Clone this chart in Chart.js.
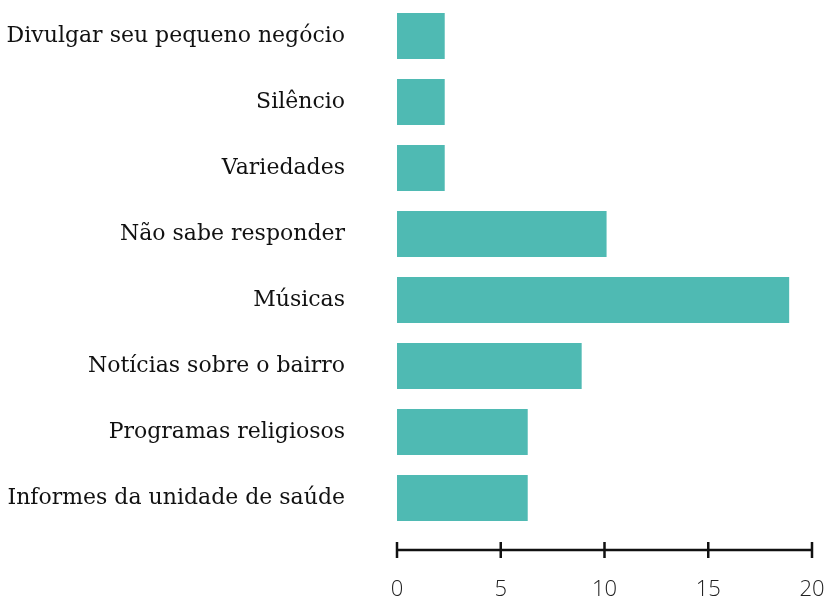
<!DOCTYPE html>
<html>
<head>
<meta charset="utf-8">
<script src="https://cdn.jsdelivr.net/npm/chart.js@4"></script>
<style>
  html, body { margin: 0; padding: 0; background: #fff; }
  #wrap { width: 827px; height: 600px; }
</style>
</head>
<body>
<div id="wrap"><canvas id="topicsChart"></canvas></div>
<script>
// categories (top to bottom) and their values
const categories = [
  "Divulgar seu pequeno negócio",
  "Silêncio",
  "Variedades",
  "Não sabe responder",
  "Músicas",
  "Notícias sobre o bairro",
  "Programas religiosos",
  "Informes da unidade de saúde"
];
const values = [2.3, 2.3, 2.3, 10.1, 18.9, 8.9, 6.3, 6.3];
const xTicks = [0, 5, 10, 15, 20];

// axis line with ticks crossing it, drawn from the x scale
const axisLine = {
  id: "axisLine",
  afterDraw(chart) {
    const ctx = chart.ctx;
    const x = chart.scales.x;
    const y = x.top + 19;
    ctx.save();
    ctx.strokeStyle = "#111";
    ctx.lineWidth = 2.5;
    ctx.beginPath();
    ctx.moveTo(x.getPixelForValue(xTicks[0]), y);
    ctx.lineTo(x.getPixelForValue(xTicks[xTicks.length - 1]), y);
    xTicks.forEach(function (t) {
      const px = x.getPixelForValue(t);
      ctx.moveTo(px, y - 8);
      ctx.lineTo(px, y + 8);
    });
    ctx.stroke();
    ctx.restore();
  }
};

const ctx = document.getElementById("topicsChart");
const topicsChart = new Chart(ctx, {
  type: "bar",
  data: {
    labels: categories,
    datasets: [{
      data: values,
      backgroundColor: "#4fbab3",
      barPercentage: 46 / 66,
      categoryPercentage: 1
    }]
  },
  options: {
    indexAxis: "y",
    responsive: true,
    maintainAspectRatio: false,
    animation: false,
    layout: { padding: { top: 3, right: 15, bottom: 0, left: 0 } },
    plugins: { legend: { display: false }, tooltip: { enabled: false } },
    scales: {
      x: {
        min: 0,
        max: 20,
        afterBuildTicks(scale) {
          scale.ticks = xTicks.map(function (v) { return { value: v }; });
        },
        afterFit(scale) {
          scale.height = 69;
          scale.paddingLeft = 0;
          scale.paddingRight = 0;
        },
        grid: { display: false, drawTicks: false },
        border: { display: false },
        ticks: {
          padding: 46,
          color: "#222",
          font: { family: "'Open Sans'", size: 22, weight: 300 }
        }
      },
      y: {
        afterFit(scale) {
          scale.width = 397;
          scale.paddingTop = 0;
          scale.paddingBottom = 0;
        },
        grid: { display: false, drawTicks: false },
        border: { display: false },
        ticks: {
          padding: 52,
          color: "#111",
          font: { family: "'DejaVu Serif'", size: 22 }
        }
      }
    }
  },
  plugins: [axisLine]
});
</script>
</body>
</html>
